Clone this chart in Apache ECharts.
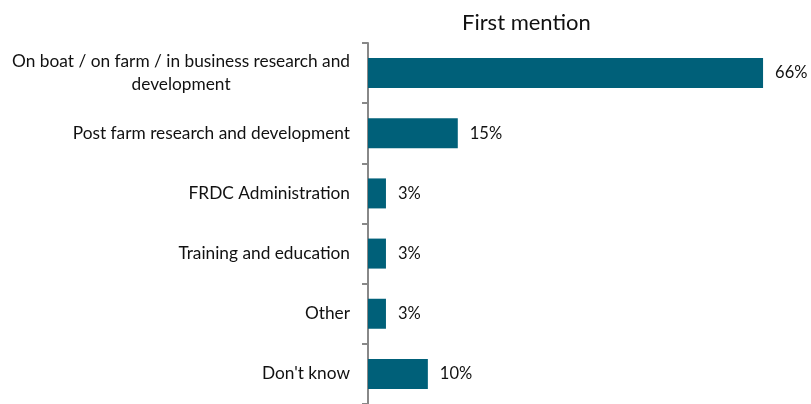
<!DOCTYPE html>
<html><head><meta charset="utf-8">
<script src="https://cdn.jsdelivr.net/npm/echarts@6/dist/echarts.min.js"></script>
<style>html,body{margin:0;padding:0;background:#fff}#c{width:811px;height:404px}</style>
</head><body><div id="c"></div>
<script>
const categories = [
  "On boat / on farm / in business research and\ndevelopment",
  "Post farm research and development",
  "FRDC Administration",
  "Training and education",
  "Other",
  "Don't know"
];
const values = [66, 15, 3, 3, 3, 10];
const titleText = "First mention";

const FONT = "Lato";
const chart = echarts.init(document.getElementById('c'));
chart.setOption({
  animation: false,
  title: {
    text: titleText, left: 457, top: 7,
    textStyle: {fontFamily: FONT, fontSize: 22, fontWeight: 'normal', color: '#111'}
  },
  grid: {left: 368, top: 43, width: 419, height: 364, containLabel: false},
  xAxis: {type: 'value', min: 0, max: 70, show: false},
  yAxis: {
    type: 'category', data: categories, inverse: true,
    axisLine: {show: true, lineStyle: {color: '#888', width: 2}},
    axisTick: {show: true, length: 6, lineStyle: {color: '#888', width: 2}},
    axisLabel: {
      margin: 18, fontFamily: FONT, fontSize: 17.3, color: '#111',
      formatter: function (v) {
        return v.split('\n').map(function (s) { return '{a|' + s + '}'; }).join('\n');
      },
      rich: {a: {align: 'center', fontFamily: FONT, fontSize: 17.3, color: '#111', lineHeight: 23}}
    }
  },
  series: [{
    type: 'bar', data: values, barWidth: 30,
    itemStyle: {color: '#006079'},
    label: {
      show: true, position: 'right', distance: 12,
      formatter: '{c}%', fontFamily: FONT, fontSize: 16.5, color: '#111'
    }
  }]
});
</script></body></html>
